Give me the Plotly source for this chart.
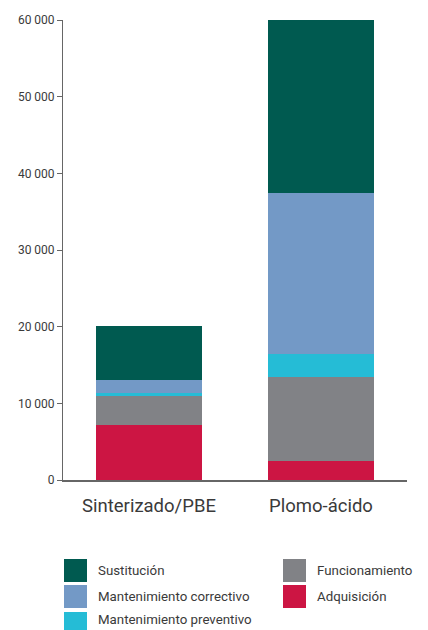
import plotly.graph_objects as go

categories = ["Sinterizado/PBE", "Plomo-ácido"]
adquisicion = [7200, 2500]
funcionamiento = [3800, 10900]
mant_preventivo = [350, 3000]
mant_correctivo = [1700, 21000]
sustitucion = [7050, 22600]

series = [
    ("Adquisición", adquisicion, "#cc1543"),
    ("Funcionamiento", funcionamiento, "#818286"),
    ("Mantenimiento preventivo", mant_preventivo, "#25bcd6"),
    ("Mantenimiento correctivo", mant_correctivo, "#7399c6"),
    ("Sustitución", sustitucion, "#005a50"),
]

fig = go.Figure()
for name, vals, col in series:
    fig.add_trace(go.Bar(x=categories, y=vals, name=name, marker_color=col,
                         marker_line_width=0, showlegend=False))

# page body has an 8px margin; compensate
OFF = 8
W, H = 428 - OFF, 630 - OFF
L, R, T, B = 63 - OFF, 21, 20 - OFF, 150
pw, ph = W - L - R, H - T - B

def px(x):
    return (x - OFF - L) / pw

def py(y):
    return (H - B - (y - OFF)) / ph

legend_items = [
    ("Sustitución", "#005a50", 64, 559, 570.5),
    ("Mantenimiento correctivo", "#7399c6", 64, 585, 596.5),
    ("Mantenimiento preventivo", "#25bcd6", 64, 612, 619.5),
    ("Funcionamiento", "#818286", 283, 559, 570.5),
    ("Adquisición", "#cc1543", 283, 585, 596.5),
]
for name, col, x0, y0, ty in legend_items:
    fig.add_shape(type="rect", xref="paper", yref="paper",
                  x0=px(x0), x1=px(x0 + 23), y0=py(y0), y1=py(min(y0 + 23, 630)),
                  fillcolor=col, line_width=0)
    fig.add_annotation(xref="paper", yref="paper", x=px(x0 + 32), y=py(ty),
                       text=name, showarrow=False, xanchor="left", yanchor="middle",
                       font=dict(size=13.3, color="#3a3a3a"))

fig.update_layout(
    width=W, height=H,
    margin=dict(l=L, r=R, t=T, b=B, autoexpand=False),
    barmode="stack", bargap=0.38,
    plot_bgcolor="white", paper_bgcolor="white",
    font=dict(family="Roboto", color="#3a3a3a"),
    separators=", ",
    showlegend=False,
    xaxis=dict(showline=True, linecolor="#666666", linewidth=1.5, ticks="",
               ticklabelstandoff=8,
               tickfont=dict(size=18.5, color="#3a3a3a"), range=[-0.5, 1.5]),
    yaxis=dict(range=[0, 60000], tickvals=[0, 10000, 20000, 30000, 40000, 50000, 60000],
               tickformat=",d", showgrid=False, zeroline=False, showline=True,
               linecolor="#666666", linewidth=1, ticks="outside", ticklen=5,
               tickcolor="#666666", tickfont=dict(size=12, color="#3a3a3a")),
)

fig.write_html("out.html")
